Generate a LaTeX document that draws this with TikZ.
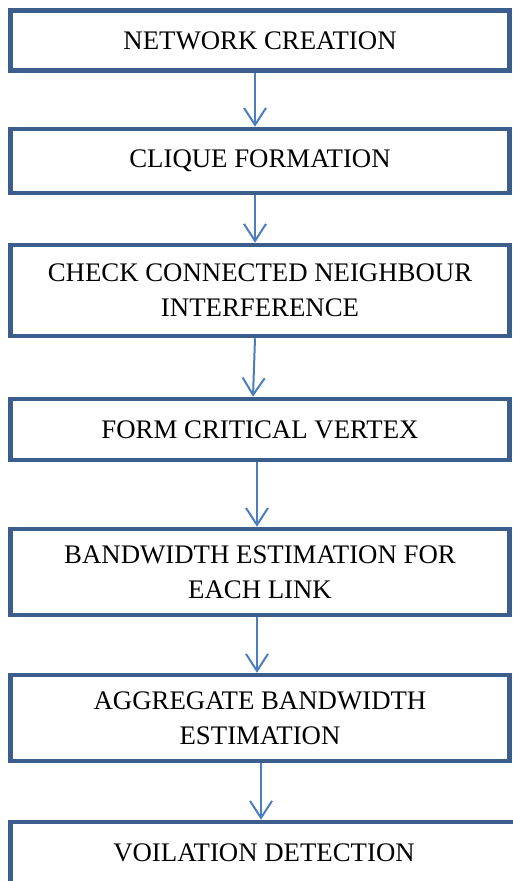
\documentclass[tikz,border=0pt]{standalone}
\usepackage{fontspec}
\setmainfont{Liberation Serif}
\usetikzlibrary{arrows.meta}
\definecolor{boxblue}{RGB}{60,94,140}
\definecolor{arrowblue}{RGB}{74,126,193}
\begin{document}
\begin{tikzpicture}[x=1pt,y=-1pt,
  stepbox/.style={draw=boxblue, line width=4.5pt, fill=white, rectangle,
    minimum width=499pt, inner sep=0pt, align=center,
    font=\fontsize{26.8}{35}\selectfont},
  flow/.style={draw=arrowblue, line width=2pt,
    -{Straight Barb[length=17pt,width=22pt,line width=2pt]}}]
  \useasboundingbox (0,0) rectangle (513,881);
  \fill[white] (0,0) rectangle (513,881);

  % process steps, top to bottom
  \node[stepbox, minimum height=60pt] (b1) at (260,40.5) {NETWORK CREATION};
  \node[stepbox, minimum height=64pt] (b2) at (260,161) {CLIQUE FORMATION};
  \node[stepbox, minimum height=91pt] (b3) at (260,290.5) {CHECK CONNECTED NEIGHBOUR\\INTERFERENCE};
  \node[stepbox, minimum height=61pt] (b4) at (260,429.5) {FORM CRITICAL VERTEX};
  \node[stepbox, minimum height=86pt] (b5) at (260,572) {BANDWIDTH ESTIMATION FOR\\EACH LINK};
  \node[stepbox, minimum height=86pt] (b6) at (260,718) {AGGREGATE BANDWIDTH\\ESTIMATION};
  \node[stepbox, minimum width=507pt, minimum height=61pt] (b7) at (264,852.5) {VOILATION DETECTION};

  % connectors
  \draw[flow] ([xshift=-5pt]b1.south) -- ([xshift=-5pt]b2.north);
  \draw[flow] ([xshift=-5pt]b2.south) -- ([xshift=-5pt]b3.north);
  \draw[flow] ([xshift=-5pt]b3.south) -- ([xshift=-7pt]b4.north);
  \draw[flow] ([xshift=-3pt]b4.south) -- ([xshift=-3pt]b5.north);
  \draw[flow] ([xshift=-3pt]b5.south) -- ([xshift=-3pt]b6.north);
  \draw[flow] ([xshift=1pt]b6.south) -- ([xshift=-3pt]b7.north);
\end{tikzpicture}
\end{document}
